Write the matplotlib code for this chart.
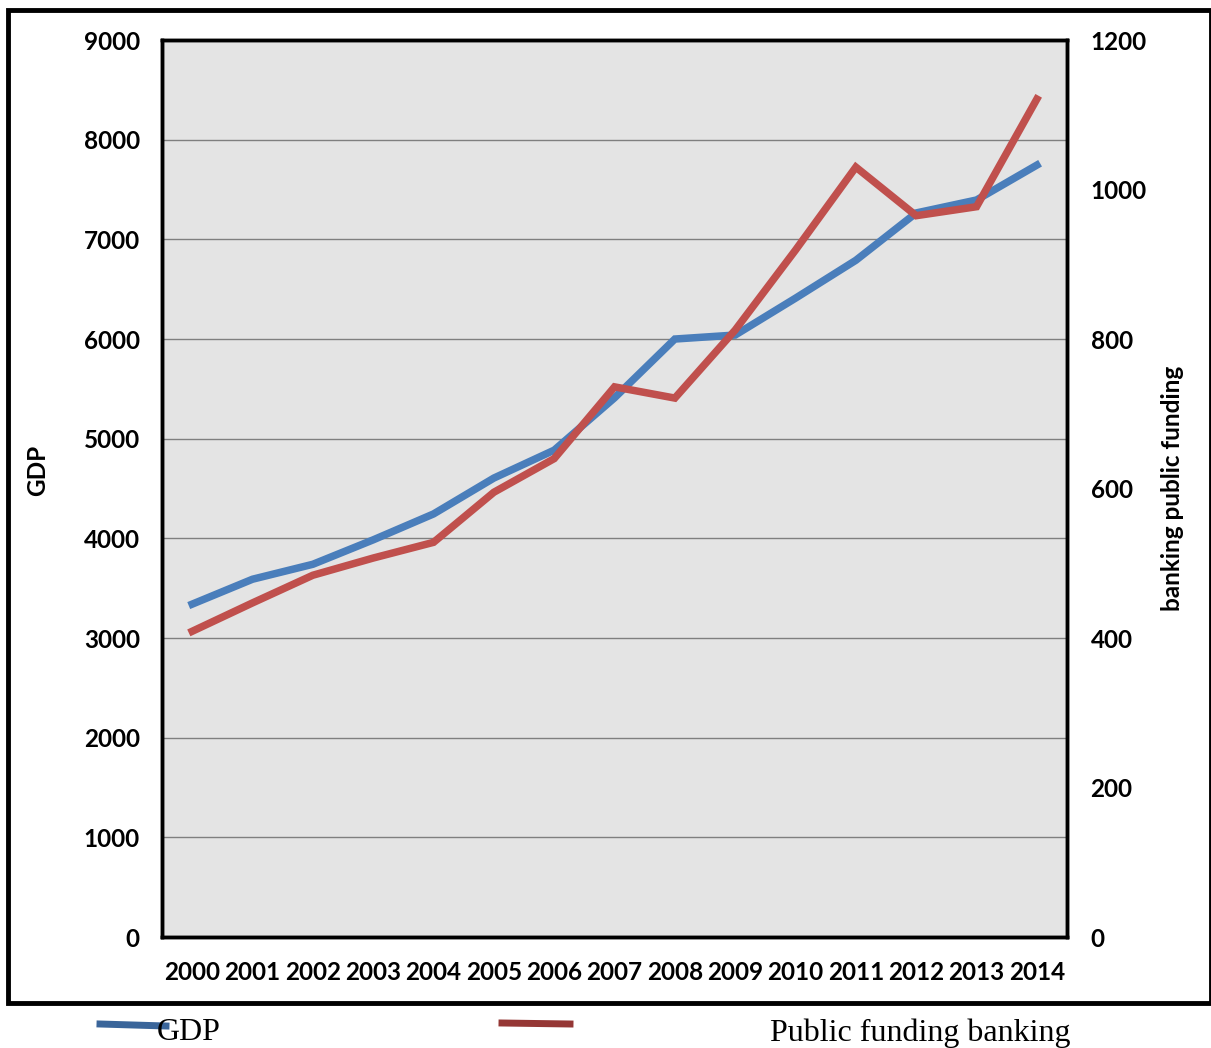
import matplotlib.pyplot as plt
from matplotlib.patches import Rectangle
from matplotlib.lines import Line2D

years = [str(y) for y in range(2000, 2015)]
gdp = [3340, 3590, 3740, 3985, 4245, 4605, 4885, 5410, 6000, 6040,
       6410, 6790, 7265, 7395, 7745]
banking = [409, 447, 484, 507, 528, 595, 640, 736, 721, 812,
           919, 1030, 965, 977, 1121]

blue = '#4a7ebb'
red = '#c0504d'
fs = 17.5
W, H = 1211, 1048

fig = plt.figure(figsize=(W / 100, H / 100), dpi=100)
ax = fig.add_axes([0.1338, 0.1059, 0.7473, 0.8559])
ax2 = ax.twinx()

ax.set_facecolor('#e4e4e4')
x = range(len(years))
ax.plot(x, gdp, color=blue, lw=5.4, solid_joinstyle='miter', zorder=3)
ax2.plot(x, banking, color=red, lw=5.4, solid_joinstyle='miter', zorder=3)

ax.set_xlim(-0.5, len(years) - 0.5)
ax.set_ylim(0, 9000)
ax2.set_ylim(0, 1200)
ax.set_yticks(range(0, 9001, 1000))
ax2.set_yticks(range(0, 1201, 200))
ax.set_xticks(list(x))
ax.set_xticklabels(years)
ax.yaxis.grid(True, color='#7f7f7f', lw=1)
ax.set_axisbelow(True)

for a in (ax, ax2):
    a.tick_params(length=0)
    for lab in a.get_xticklabels() + a.get_yticklabels():
        lab.set_fontfamily('Lato')
        lab.set_fontweight('bold')
        lab.set_fontsize(fs)
    for s in a.spines.values():
        s.set_linewidth(2.5)
        s.set_color('black')
ax.tick_params(axis='x', pad=17)
ax.tick_params(axis='y', pad=16)
ax2.tick_params(axis='y', pad=17)

# axis titles
fig.text(38 / W, 1 - 470 / H, 'GDP', family='Lato', weight='bold', size=fs,
         rotation=90, ha='center', va='center')
fig.text(1173 / W, 1 - 488 / H, 'banking public funding', family='Lato', weight='bold',
         size=fs, rotation=90, ha='center', va='center')

# outer border
fig.patches.append(Rectangle((8 / W, 1 - 1003 / H), 1 - 8 / W, (1003 - 10) / H,
                             transform=fig.transFigure, fill=False, lw=3.5,
                             edgecolor='black'))

# legend below the border
fig.add_artist(Line2D([100 / W, 166 / W], [1 - 1024 / H, 1 - 1026 / H],
                      transform=fig.transFigure, color='#3a659a', lw=5))
fig.add_artist(Line2D([502 / W, 570 / W], [1 - 1023 / H, 1 - 1024 / H],
                      transform=fig.transFigure, color='#953735', lw=5))
fig.text(157 / W, 1 - 1033 / H, 'GDP', family='Liberation Serif', fontsize=23,
         va='center', ha='left')
fig.text(770 / W, 1 - 1033 / H, 'Public funding banking', family='Liberation Serif',
         fontsize=23, va='center', ha='left')

fig.savefig('out.png', dpi=100)
